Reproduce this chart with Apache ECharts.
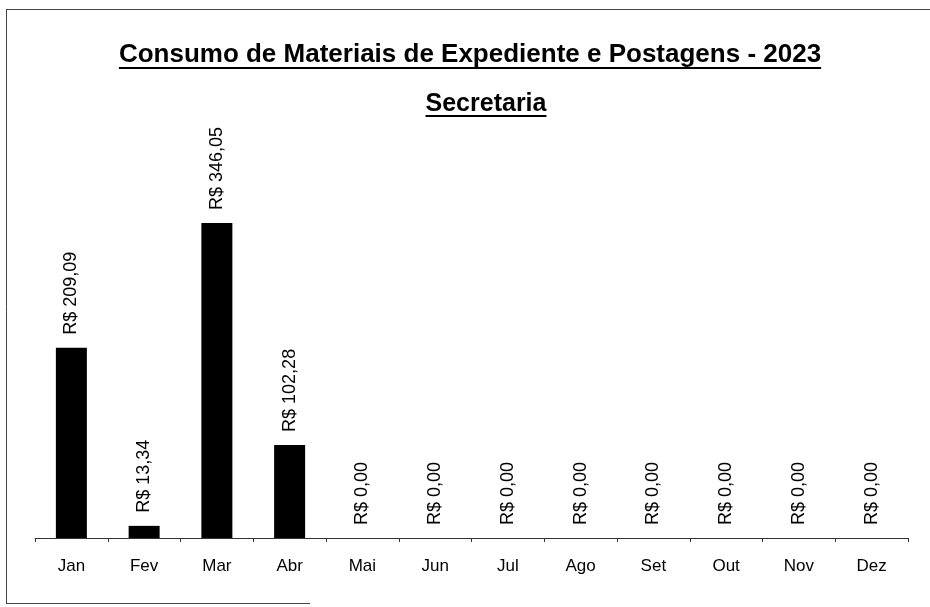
<!DOCTYPE html>
<html><head><meta charset="utf-8">
<script src="https://cdn.jsdelivr.net/npm/echarts@6/dist/echarts.min.js"></script>
<style>html,body{margin:0;padding:0;background:#fff}#c{width:930px;height:607px}</style>
</head><body><div id="c"></div>
<script>
const titleText = 'Consumo de Materiais de Expediente e Postagens - 2023';
const subtitleText = 'Secretaria';
const months = ['Jan','Fev','Mar','Abr','Mai','Jun','Jul','Ago','Set','Out','Nov','Dez'];
const values = [209.09, 13.34, 346.05, 102.28, 0, 0, 0, 0, 0, 0, 0, 0];

const FONT = '"Liberation Sans", Arial, sans-serif';
const chart = echarts.init(document.getElementById('c'));

function textWidth(t, font) {
  const el = new echarts.graphic.Text({style: {text: t, font: font}});
  return el.getBoundingRect().width;
}
const titleFont = 'bold 26px ' + FONT;
const subFont = 'bold 25px ' + FONT;
const tw = textWidth(titleText, titleFont);
const sw = textWidth(subtitleText, subFont);
const tcx = 470, scx = 486;

chart.setOption({
  animation: false,
  backgroundColor: '#fff',
  grid: {left: 35, right: 22, top: 174, bottom: 69, containLabel: false},
  xAxis: {
    type: 'category',
    data: months,
    axisLine: {lineStyle: {color: '#333', width: 1}},
    axisTick: {show: true, length: 4, inside: false, lineStyle: {color: '#333'}},
    axisLabel: {color: '#000', fontFamily: FONT, fontSize: 17, margin: 20}
  },
  yAxis: {
    type: 'value', min: 0, max: 400,
    show: false,
    splitLine: {show: false}
  },
  series: [{
    type: 'bar',
    data: values,
    barWidth: 31,
    itemStyle: {color: '#000'},
    label: {
      show: true,
      position: 'top',
      rotate: 90,
      align: 'left',
      verticalAlign: 'middle',
      distance: 13,
      color: '#000',
      fontFamily: FONT,
      fontSize: 18,
      formatter: p => 'R$ ' + p.value.toFixed(2).replace('.', ',')
    }
  }],
  graphic: [
    {type: 'text', x: tcx, y: 55, style: {text: titleText, font: titleFont, fill: '#000', align: 'center', verticalAlign: 'middle'}},
    {type: 'text', x: scx, y: 104, style: {text: subtitleText, font: subFont, fill: '#000', align: 'center', verticalAlign: 'middle'}},
    {type: 'line', shape: {x1: 6, y1: 9.5, x2: 930, y2: 9.5}, style: {stroke: '#444', lineWidth: 1}},
    {type: 'line', shape: {x1: 6.5, y1: 9, x2: 6.5, y2: 604}, style: {stroke: '#444', lineWidth: 1}},
    {type: 'line', shape: {x1: 6, y1: 603.5, x2: 310, y2: 603.5}, style: {stroke: '#444', lineWidth: 1}},
    {type: 'line', shape: {x1: tcx - tw / 2, y1: 68, x2: tcx + tw / 2, y2: 68}, style: {stroke: '#000', lineWidth: 2}},
    {type: 'line', shape: {x1: scx - sw / 2, y1: 116, x2: scx + sw / 2, y2: 116}, style: {stroke: '#000', lineWidth: 2}}
  ]
});
</script>
</body></html>
